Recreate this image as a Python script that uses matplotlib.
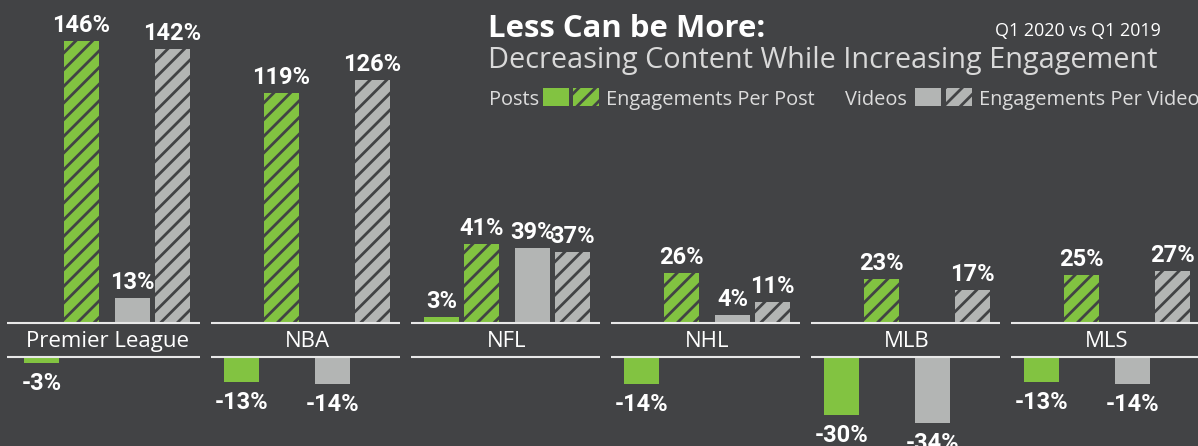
import matplotlib
matplotlib.use("Agg")
import matplotlib.pyplot as plt
from matplotlib.patches import Rectangle

LEAGUES = ["Premier League", "NBA", "NFL", "NHL", "MLB", "MLS"]
POSTS = [-3, -13, 3, -14, -30, -13]
ENG_PER_POST = [146, 119, 41, 26, 23, 25]
VIDEOS = [13, -14, 39, 4, -34, -14]
ENG_PER_VIDEO = [142, 126, 37, 11, 17, 27]

BG = "#424345"
GREEN = "#82c341"
GREY = "#b3b5b4"
WHITE = "#ffffff"
LIGHT = "#dcdcdc"

plt.rcParams["font.family"] = "Open Sans"
plt.rcParams["hatch.linewidth"] = 2.0

W, H = 1198, 446
PX = 1.93          # pixels per percentage point
GAP = 34 / PX      # space between the two baselines, in % units

fig = plt.figure(figsize=(W / 100, H / 100), dpi=100, facecolor=BG)
ax = fig.add_axes([0, 0, 1, 1])
ax.set_facecolor(BG)
ax.set_xlim(0, W / 200)
ax.set_ylim(-(H - 323) / PX, 323 / PX)
ax.axis("off")

series = [
    (POSTS, GREEN, None),
    (ENG_PER_POST, GREEN, "//"),
    (VIDEOS, GREY, None),
    (ENG_PER_VIDEO, GREY, "//"),
]
offsets = [0.12, 0.32, 0.575, 0.775]
width = 0.175
val_font = dict(color=WHITE, fontsize=17, fontweight="bold", family="Roboto",
                ha="center", va="baseline")

for i, name in enumerate(LEAGUES):
    start = i + (0.035 if i == 0 else 0.055)
    ax.hlines([0, -GAP], start, i + 1.0, color="#e8e8e8", lw=1.5)
    ax.text(i + 0.535, -24 / PX, name, ha="center", va="baseline",
            color=WHITE, fontsize=16)

for (vals, col, hatch), off in zip(series, offsets):
    for i, v in enumerate(vals):
        x = i + off
        bottom = 0 if v >= 0 else -GAP
        ax.bar(x, v, width=width, bottom=bottom, align="edge", color=col,
               hatch=hatch, edgecolor=BG if hatch else col, linewidth=0)
        if v >= 0:
            ax.text(x + width / 2, v + 9 / PX, f"{v}%", **val_font)
        else:
            ax.text(x + width / 2, -GAP + v - 27 / PX, f"{v}%", **val_font)

# title block
def fx(px):
    return px / W

def fy(py):
    return 1 - py / H

fig.text(fx(488), fy(37), "Less Can be More:", color=WHITE, fontsize=22.4,
         fontweight="bold", va="baseline")
fig.text(fx(1161), fy(36), "Q1 2020 vs Q1 2019", color=WHITE, fontsize=12.9,
         ha="right", va="baseline")
fig.text(fx(488), fy(68), "Decreasing Content While Increasing Engagement",
         color="#d9d9d9", fontsize=20.8, va="baseline")

# legend row
for left, label in [(489, "Posts"), (606, "Engagements Per Post"),
                    (845, "Videos"), (979, "Engagements Per Video")]:
    fig.text(fx(left), fy(105), label, color=LIGHT, fontsize=14.4, va="baseline")
for left, col, hatch in [(543, GREEN, None), (573, GREEN, "//"),
                         (915, GREY, None), (946, GREY, "//")]:
    fig.patches.append(Rectangle((fx(left), fy(106)), 26 / W, 18 / H,
                                 transform=fig.transFigure, facecolor=col,
                                 hatch=hatch, edgecolor=BG if hatch else col,
                                 linewidth=0))

fig.savefig("out.png", dpi=100, facecolor=BG)
